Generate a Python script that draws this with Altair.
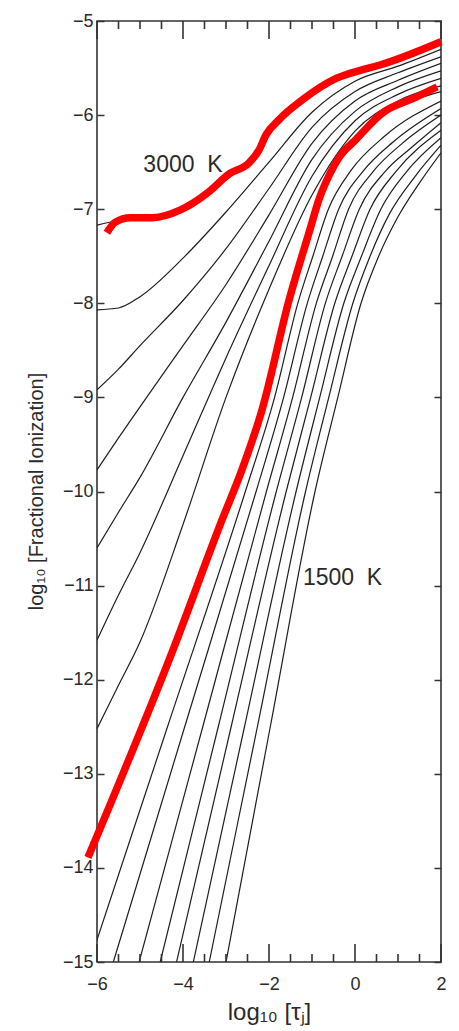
import altair as alt
import pandas as pd

# ---------------- data ----------------
# black model curves, labelled by temperature (K)
T3000_x = [-6.0, -5.5, -5.0, -4.5, -4.07, -3.44, -2.91, -2.47, -2.23, -2.07, -1.77, -1.23, -0.44, 0.16, 0.56, 1.0, 2.0]
T3000_y = [-7.17, -7.12, -7.09, -7.06, -7.01, -6.83, -6.62, -6.51, -6.37, -6.21, -6.05, -5.84, -5.61, -5.52, -5.47, -5.41, -5.22]

UP_x = [-6.0, -5.5, -5.0, -4.0, -3.0, -2.0, -1.0, 0.0, 1.0, 2.0]
T2900_y = [-8.07, -8.05, -7.93, -7.52, -7.03, -6.50, -5.97, -5.64, -5.48, -5.30]
T2800_y = [-8.92, -8.70, -8.45, -7.97, -7.42, -6.78, -6.13, -5.75, -5.55, -5.38]
T2700_y = [-9.77, -9.43, -9.10, -8.45, -7.80, -7.06, -6.30, -5.85, -5.63, -5.45]
T2600_y = [-10.60, -10.22, -9.85, -9.00, -8.20, -7.34, -6.47, -5.96, -5.70, -5.53]
T2500_y = [-11.58, -11.10, -10.65, -9.62, -8.58, -7.60, -6.65, -6.06, -5.78, -5.61]
T2400_y = [-12.52, -12.06, -11.60, -10.35, -9.00, -7.85, -6.85, -6.17, -5.85, -5.69]

T2300_x = [-6.0, -4.23, -3.09, -2.63, -2.16, -1.53, -1.05, -0.84, -0.58, -0.37, 0.02, 0.63, 1.42, 2.0]
T2300_y = [-13.65, -11.68, -10.30, -9.77, -9.13, -7.96, -7.22, -6.90, -6.62, -6.45, -6.26, -5.98, -5.83, -5.75]
T2200_x = [-6.17, -4.36, -2.55, -1.87, -1.33, -0.98, -0.62, -0.08, 0.70, 2.0]
T2200_y = [-15.0, -12.5, -10.0, -9.0, -8.0, -7.5, -7.0, -6.58, -6.22, -5.85]
T2100_x = [-5.62, -3.96, -2.30, -1.66, -1.11, -0.75, -0.38, 0.18, 0.90, 2.0]
T2100_y = [-15.0, -12.5, -10.0, -9.0, -8.0, -7.5, -7.0, -6.60, -6.28, -5.93]
T2000_x = [-5.02, -3.54, -2.06, -1.45, -0.90, -0.52, -0.15, 0.42, 1.10, 2.0]
T2000_y = [-15.0, -12.5, -10.0, -9.0, -8.0, -7.5, -7.0, -6.60, -6.30, -6.00]
T1900_x = [-4.53, -3.18, -1.83, -1.24, -0.69, -0.30, 0.10, 0.70, 1.30, 2.0]
T1900_y = [-15.0, -12.5, -10.0, -9.0, -8.0, -7.5, -7.0, -6.60, -6.35, -6.08]
T1800_x = [-4.15, -2.88, -1.60, -1.03, -0.47, -0.07, 0.35, 0.95, 2.0]
T1800_y = [-15.0, -12.5, -10.0, -9.0, -8.0, -7.5, -7.0, -6.60, -6.16]
T1700_x = [-3.76, -2.57, -1.37, -0.82, -0.26, 0.15, 0.60, 1.20, 2.0]
T1700_y = [-15.0, -12.5, -10.0, -9.0, -8.0, -7.5, -7.0, -6.60, -6.24]
T1600_x = [-3.39, -2.27, -1.15, -0.61, -0.05, 0.35, 0.80, 1.40, 2.0]
T1600_y = [-15.0, -12.5, -10.0, -9.0, -8.0, -7.5, -7.05, -6.65, -6.32]
T1500_x = [-3.00, -1.97, -0.93, -0.40, 0.14, 0.55, 1.00, 1.50, 2.0]
T1500_y = [-15.0, -12.5, -10.0, -9.0, -8.0, -7.5, -7.08, -6.72, -6.40]

# red highlight strokes drawn over the figure
RED_TOP_x = [-5.77, -5.58, -5.23, -4.70, -4.07, -3.44, -2.91, -2.47, -2.23, -2.07, -1.77, -1.23, -0.44, 0.16, 0.56, 2.0]
RED_TOP_y = [-7.25, -7.14, -7.09, -7.09, -7.01, -6.83, -6.62, -6.51, -6.37, -6.21, -6.05, -5.84, -5.61, -5.52, -5.47, -5.22]
RED_LOW_x = [-6.21, -4.23, -3.09, -2.63, -2.16, -1.53, -1.05, -0.84, -0.58, -0.37, 0.02, 0.63, 1.42, 1.91]
RED_LOW_y = [-13.89, -11.68, -10.30, -9.77, -9.13, -7.96, -7.22, -6.90, -6.62, -6.45, -6.26, -5.98, -5.81, -5.70]

# annotations
LABEL_text = ["3000\u00a0\u00a0K", "1500\u00a0\u00a0K"]
LABEL_x = [-4.0, -0.29]
LABEL_y = [-6.53, -10.92]

X_MAJOR = [-6, -4, -2, 0, 2]
X_MINOR = [-5.5, -5, -4.5, -3.5, -3, -2.5, -1.5, -1, -0.5, 0.5, 1, 1.5]
Y_TICKS = [-15, -14, -13, -12, -11, -10, -9, -8, -7, -6, -5]

# ---------------- build tables ----------------
def rows_of(name, xs, ys):
    return [{"curve": name, "x": x, "y": y, "i": i} for i, (x, y) in enumerate(zip(xs, ys))]

upper_rows = rows_of("3000", T3000_x, T3000_y)
for name, ys in [("2900", T2900_y), ("2800", T2800_y), ("2700", T2700_y),
                 ("2600", T2600_y), ("2500", T2500_y), ("2400", T2400_y)]:
    upper_rows += rows_of(name, UP_x, ys)
lower_rows = []
for name, xs, ys in [("2300", T2300_x, T2300_y), ("2200", T2200_x, T2200_y),
                     ("2100", T2100_x, T2100_y), ("2000", T2000_x, T2000_y),
                     ("1900", T1900_x, T1900_y), ("1800", T1800_x, T1800_y),
                     ("1700", T1700_x, T1700_y), ("1600", T1600_x, T1600_y),
                     ("1500", T1500_x, T1500_y)]:
    lower_rows += rows_of(name, xs, ys)
red_rows = rows_of("top", RED_TOP_x, RED_TOP_y) + rows_of("low", RED_LOW_x, RED_LOW_y)

df_up = pd.DataFrame(upper_rows)
df_low = pd.DataFrame(lower_rows)
df_red = pd.DataFrame(red_rows)
df_txt = pd.DataFrame({"x": LABEL_x, "y": LABEL_y, "t": LABEL_text})

FONT = "Liberation Sans"
TXT = "#2a2a2a"
AX = "#333333"
W, H = 344, 941
Y0, Y1 = -15, -5

# inward x ticks (top & bottom), lengths given in pixels and turned into y-units
MAJ_LEN = 18 * (Y1 - Y0) / H
MIN_LEN = 8 * (Y1 - Y0) / H
tick_rows = []
for v in X_MAJOR:
    tick_rows += [{"tx": v, "ty": Y0, "ty2": Y0 + MAJ_LEN}, {"tx": v, "ty": Y1, "ty2": Y1 - MAJ_LEN}]
for v in X_MINOR:
    tick_rows += [{"tx": v, "ty": Y0, "ty2": Y0 + MIN_LEN}, {"tx": v, "ty": Y1, "ty2": Y1 - MIN_LEN}]
df_ticks = pd.DataFrame(tick_rows)

xs = alt.Scale(domain=[-6, 2], nice=False, zero=False)
ys = alt.Scale(domain=[Y0, Y1], nice=False, zero=False)

ax_bottom = alt.Axis(orient="bottom", values=X_MAJOR, ticks=False, domain=False, grid=False,
                     labelPadding=13, labelFontSize=18, labelFont=FONT, labelColor=TXT,
                     labelFlush=False, labelOverlap=False,
                     title="log\u2081\u2080 [\u03c4\u2c7c]", titleFont=FONT, titleFontSize=24,
                     titleFontWeight="normal", titleColor=TXT, titleX=172, titleY=50,
                     titleAlign="center", titleBaseline="middle")
ax_left = alt.Axis(orient="left", values=Y_TICKS, tickSize=7, offset=-7, labelPadding=4,
                   labelFontSize=18, labelFont=FONT, labelColor=TXT,
                   labelFlush=False, labelOverlap=False, grid=False, domain=False,
                   tickColor=AX, tickWidth=1.5,
                   title="log\u2081\u2080 [Fractional Ionization]", titleFont=FONT, titleFontSize=20,
                   titleFontWeight="normal", titleColor=TXT, titleX=-68, titleY=470,
                   titleAlign="center", titleBaseline="middle", titleAngle=-90)
ax_right = alt.Axis(orient="right", values=Y_TICKS, tickSize=7, offset=-7, grid=False, domain=False,
                    tickColor=AX, tickWidth=1.5, labels=False, title=None)

XN = alt.X("x:Q", scale=xs, axis=None)
line_style = dict(color="#1e1e1e", strokeWidth=1.2, interpolate="monotone", clip=True)

upper = alt.Chart(df_up).mark_line(**line_style).encode(
    x=alt.X("x:Q", scale=xs, axis=ax_bottom), y=alt.Y("y:Q", scale=ys, axis=ax_left),
    detail="curve:N", order=alt.Order("i:Q"),
)
lower = alt.Chart(df_low).mark_line(**line_style).encode(
    x=XN, y=alt.Y("y:Q", scale=ys, axis=ax_right),
    detail="curve:N", order=alt.Order("i:Q"),
)
red = alt.Chart(df_red).mark_line(color="#ff0000", strokeWidth=7.5, interpolate="monotone", strokeCap="butt").encode(
    x=XN, y=alt.Y("y:Q", scale=ys, axis=None),
    detail="curve:N", order=alt.Order("i:Q"),
)
text = alt.Chart(df_txt).mark_text(font=FONT, fontSize=23, color=TXT, align="center", baseline="middle").encode(
    x=XN, y=alt.Y("y:Q", scale=ys, axis=None), text="t:N",
)
ticks = alt.Chart(df_ticks).mark_rule(color=AX, strokeWidth=1.6).encode(
    x=alt.X("tx:Q", scale=xs, axis=None),
    y=alt.Y("ty:Q", scale=ys, axis=None),
    y2="ty2:Q",
)

chart = alt.layer(upper, lower, red, text, ticks).resolve_axis(x="independent", y="independent").properties(
    width=W, height=H,
    autosize=alt.AutoSizeParams(type="none"),
    padding={"left": 89, "top": 13, "right": 10, "bottom": 66},
    background="white",
).configure_view(stroke="#333333", strokeWidth=1.6)

chart.save("out.html", embed_options={"renderer": "svg", "actions": False})
